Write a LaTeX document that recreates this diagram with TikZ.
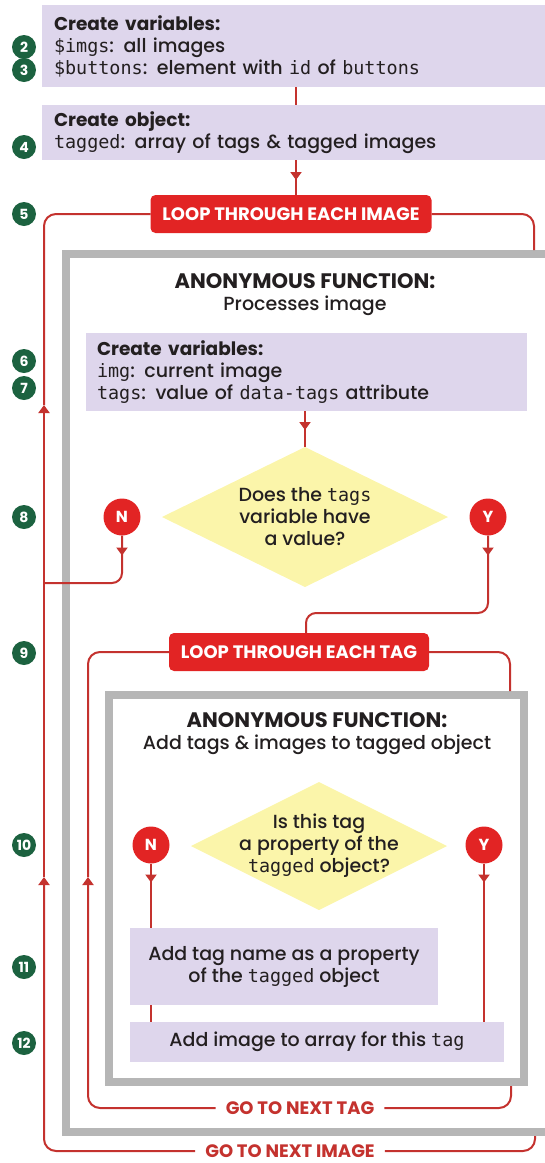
\documentclass[tikz,border=0pt]{standalone}
\usepackage{fontspec}
\setmainfont{Poppins}[UprightFont=* Medium, BoldFont=* Bold]
\setmonofont{DejaVu Sans Mono}[Scale=0.97]
\usetikzlibrary{shapes.geometric,arrows.meta,decorations.markings}

\definecolor{lavender}{RGB}{222,214,236}
\definecolor{stepgreen}{RGB}{28,98,64}
\definecolor{loopred}{RGB}{226,36,36}
\definecolor{linered}{RGB}{196,50,46}
\definecolor{ink}{RGB}{35,31,32}
\definecolor{framegray}{RGB}{182,182,182}
\definecolor{qyellow}{RGB}{251,245,170}

\newcommand\code[1]{{\ttfamily #1}}
\newcommand\bodysize{\fontsize{19}{22}\selectfont}
\newcommand\capsize{\fontsize{18}{18}\selectfont\bfseries}
\newcommand\lead[1]{{\fontsize{18.5}{22}\selectfont\bfseries #1}}
\newcommand\fntitle[1]{{\fontsize{21}{22}\selectfont\bfseries #1}}

\begin{document}
\begin{tikzpicture}[x=1pt,y=-1pt,
  >={Triangle[width=11pt,length=8pt]},
  pbox/.style={fill=lavender, inner xsep=12pt, inner ysep=0pt, outer sep=0pt,
    font=\bodysize, text=ink, align=left},
  cbox/.style={fill=lavender, inner sep=0pt, outer sep=0pt,
    font=\bodysize, text=ink, align=center},
  frame/.style={draw=framegray, line width=8pt, outer sep=0pt, inner sep=0pt},
  loopbox/.style={fill=loopred, rounded corners=5pt, text=white, font=\capsize,
    minimum height=38pt, inner sep=0pt, outer sep=0pt},
  golabel/.style={text=linered, font=\capsize, inner xsep=10pt, inner ysep=0pt, fill=white},
  question/.style={diamond, fill=qyellow, inner sep=0pt, outer sep=0pt},
  qtext/.style={font=\bodysize, text=ink, align=center},
  heading/.style={font=\bodysize, text=ink, align=center},
  yn/.style={circle, fill=loopred, text=white, font=\fontsize{16}{16}\selectfont\bfseries,
    minimum size=37pt, inner sep=0pt, outer sep=0pt},
  stepnum/.style={circle, fill=stepgreen, text=white, font=\fontsize{14}{14}\selectfont\bfseries,
    minimum size=24pt, inner sep=0pt},
  rl/.style={draw=linered, line width=2pt},
  midtip/.style={postaction={decorate}, decoration={markings,
    mark=at position #1 with {\arrow{Triangle[width=11pt,length=8pt]}}}}
]
\useasboundingbox (0,0) rectangle (545,1163);

% ---- set-up statements ----
\node[pbox, anchor=north west, minimum height=82pt, text width=484pt] (vars) at (42,5)
  {\lead{Create variables:}\\
   \code{\$imgs}: all images\\
   \code{\$buttons}: element with \code{id} of \code{buttons}};
\node[pbox, anchor=north west, minimum height=55pt, text width=484pt] (obj) at (42,105)
  {\lead{Create object:}\\
   \code{tagged}: array of tags \& tagged images};

% ---- frames of the two anonymous functions ----
\node[frame, anchor=north west, minimum width=483pt, minimum height=878pt] (outer) at (66,254) {};
\node[frame, anchor=north west, minimum width=415pt, minimum height=387pt] (inner) at (109,695) {};

% ---- outer loop ----
\node[loopbox, minimum width=281pt] (imgloop) at (291,214) {LOOP THROUGH EACH IMAGE};
\node[golabel] (goimg) at (290,1151) {GO TO NEXT IMAGE};

\node[heading] (fn1) at (305,295) {\fntitle{ANONYMOUS FUNCTION:}\\Processes image};

\node[pbox, anchor=north west, inner xsep=11pt, minimum height=78pt, text width=419pt] (cvars) at (86,333)
  {\lead{Create variables:}\\
   \code{img}: current image\\
   \code{tags}: value of \code{data-tags} attribute};

\node[question, minimum width=286pt, minimum height=140pt] (q1) at (305,517) {};
\node[qtext] at (q1.center) {Does the \code{tags}\\variable have\\a value?};
\node[yn] (n1) at (122,517) {N};
\node[yn] (y1) at (488,517) {Y};

% ---- inner loop ----
\node[loopbox, minimum width=260pt] (tagloop) at (299,652) {LOOP THROUGH EACH TAG};
\node[golabel] (gotag) at (300,1108) {GO TO NEXT TAG};

\node[heading] (fn2) at (317,734) {\fntitle{ANONYMOUS FUNCTION:}\\Add tags \& images to tagged object};

\node[question, minimum width=256pt, minimum height=128pt] (q2) at (319,846) {};
\node[qtext] at (q2.center) {Is this tag\\a property of the\\\code{tagged} object?};
\node[yn] (n2) at (151,845) {N};
\node[yn] (y2) at (484,845) {Y};

\node[cbox, minimum width=308pt, minimum height=77pt] (addprop) at (284,966.5)
  {Add tag name as a property\\of the \code{tagged} object};
\node[cbox, minimum width=374pt, minimum height=40pt] (addimg) at (317,1042)
  {Add image to array for this \code{tag}};

% ---- step numbers ----
\foreach \n/\y in {2/47,3/70,4/147,5/214,6/361,7/388,8/517,9/653,10/845,11/967,12/1043}
  \node[stepnum] (s\n) at (24,\y) {\n};

% ---- connectors ----
\coordinate (imgTop) at (534,250);
\coordinate (imgBot) at (535,1136);
\coordinate (imgUpA) at (44,877);
\coordinate (imgUpB) at (44,405);
\coordinate (joinN) at (44,583);
\coordinate (yTurn) at (306,613);
\coordinate (tagTop) at (510,691);
\coordinate (tagBot) at (511,1086);
\coordinate (tagUp) at (88,877);

\draw[rl] (vars.south) -- (obj.north);
\draw[rl, midtip=20pt] (obj.south) -- (obj.south |- imgloop.north);

\draw[rl, rounded corners=12pt] (imgloop.east) -| (imgTop);
\draw[rl, rounded corners=12pt] (imgBot) |- (goimg.east);
\draw[rl, rounded corners=12pt, ->] (goimg.west) -| (imgUpA);
\draw[rl, ->] (imgUpA) -- (imgUpB);
\draw[rl, rounded corners=12pt] (imgUpB) |- (imgloop.west);

\draw[rl, midtip=19pt] (cvars.south -| q1.north) -- (q1.north);

\draw[rl, rounded corners=10pt, midtip=20pt] (n1.south) |- (joinN);
\draw[rl, rounded corners=10pt, midtip=20pt] (y1.south) |- (yTurn) -- ([xshift=7pt]tagloop.north);

\draw[rl, rounded corners=12pt] (tagloop.east) -| (tagTop);
\draw[rl, rounded corners=12pt] (tagBot) |- (gotag.east);
\draw[rl, rounded corners=12pt, ->] (gotag.west) -| (tagUp);
\draw[rl, rounded corners=12pt] (tagUp) |- (tagloop.west);

\draw[rl, midtip=19pt] (n2.south) -- (n2.south |- addprop.north);
\draw[rl] (addprop.south -| n2.south) -- (addimg.north -| n2.south);
\draw[rl, midtip=19pt] (y2.south) -- (y2.south |- addimg.north);
\end{tikzpicture}
\end{document}
